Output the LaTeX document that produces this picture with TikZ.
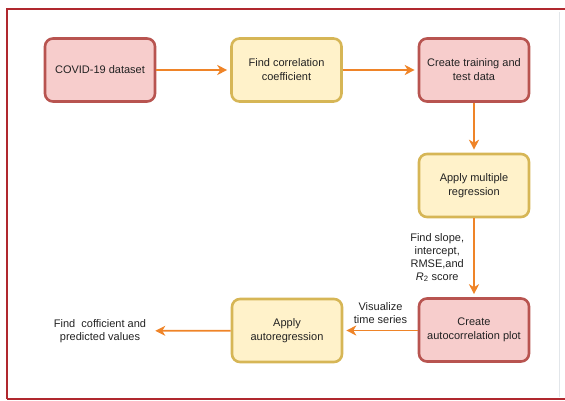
\documentclass[tikz,border=0pt]{standalone}
\usepackage{fontspec}
\setmainfont{Liberation Sans}
\usetikzlibrary{arrows.meta,positioning}
\definecolor{ppink}{HTML}{F7CDCC}
\definecolor{ppinkd}{HTML}{B85450}
\definecolor{pyellow}{HTML}{FFF2CA}
\definecolor{pyellowd}{HTML}{D6B656}
\definecolor{porange}{HTML}{EF8428}
\definecolor{pframe}{HTML}{B0282E}
\definecolor{pgray}{HTML}{E2E6EA}
\definecolor{ptext}{HTML}{222222}
\tikzset{
  % rounded box, border a darker tone of its fill
  blk/.style   = {rectangle, rounded corners=8pt, draw=#1d, fill=#1, line width=2.6pt,
                  align=center, font=\fontsize{11}{14}\selectfont, text=ptext,
                  minimum width=110pt, minimum height=63pt},
  blk/.default = ppink,
  arr/.style   = {-{Stealth[length=10pt,width=10pt,inset=3pt]}, line width=1.8pt, porange,
                  shorten >=3pt},
  lbl/.style   = {font=\fontsize{11}{12.8}\selectfont, text=ptext, align=center, inner sep=2pt},
}
\begin{document}
\begin{tikzpicture}[x=1pt,y=-1pt]
\useasboundingbox (0,0) rectangle (565,401);
% frame
\draw[pgray, line width=1pt] (559,12) -- (559,397);
\draw[pframe, line width=2.8pt] (565,9) -- (7,9) -- (7,399);
\draw[pframe, line width=1.4pt] (7,399) -- (565,399);
% top row
\node[blk=ppink]   (covid) at (100,70)   {COVID-19 dataset};
\node[blk=pyellow] (corr)  at (286.5,70) {Find correlation\\coefficient};
\node[blk=ppink]   (train) at (474,70)   {Create training and\\test data};
% right column
\node[blk=pyellow] (mreg)  at (474,185.5) {Apply multiple\\regression};
\node[blk=ppink]   (acorr) at (474,330)   {Create\\autocorrelation plot};
% bottom row
\node[blk=pyellow] (areg)  at (287,330.5) {Apply\\autoregression};
\node[lbl]         (res)   at (100,331)   {Find~ cofficient and\\predicted values};
% arrows
\draw[arr] (covid) -- (corr);
\draw[arr] (corr) -- (train);
\draw[arr] (train) -- (mreg);
\draw[arr] (mreg) -- (acorr)
  node[lbl, midway, left=7pt] {Find slope,\\intercept,\\RMSE,and\\\textit{R}\textsubscript{2} score};
\draw[arr] (acorr.west |- areg) -- (areg)
  node[lbl, midway, above=4pt] {Visualize\\time series};
\draw[arr, shorten >=7pt] (areg) -- (res);
\end{tikzpicture}
\end{document}
